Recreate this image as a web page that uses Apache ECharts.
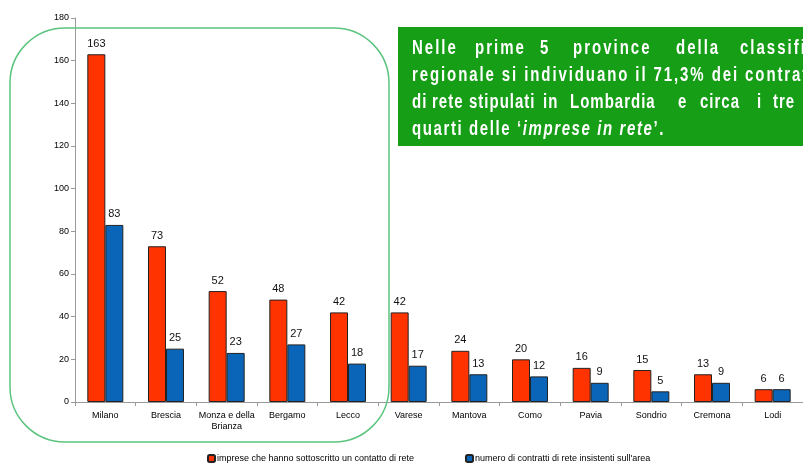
<!DOCTYPE html>
<html><head><meta charset="utf-8">
<script src="https://cdn.jsdelivr.net/npm/echarts@6/dist/echarts.min.js"></script>
<style>html,body{margin:0;padding:0;background:#fff}#c{width:803px;height:463px}</style>
</head><body><div id="c"></div>
<script>
const categories = ['Milano','Brescia','Monza e della\nBrianza','Bergamo','Lecco','Varese','Mantova','Como','Pavia','Sondrio','Cremona','Lodi'];
const imprese = [163,73,52,48,42,42,24,20,16,15,13,6];
const contratti = [83,25,23,27,18,17,13,12,9,5,9,6];
const seriesNames = ['imprese che hanno sottoscritto un contatto di rete','numero di contratti di rete insistenti sull\'area'];
const yTicks = {min:0, max:180, interval:20};

const F = 'Arial,"Liberation Sans",sans-serif';
const TF = 'bold 15px ' + F;
const chart = echarts.init(document.getElementById('c'));

// text-box helpers (letter-spaced, vertically stretched white text)
const mctx = document.createElement('canvas').getContext('2d');
function cw(ch, it){ mctx.font = (it ? 'italic ' : '') + TF; return mctx.measureText(ch).width; }
function placeRun(str, x, y, ls, it, out){
  for (const ch of str){
    if (ch !== ' ') out.push({type:'text', x:x, y:y, scaleY:1.35, z:20,
      style:{text:ch, fill:'#fff', font:(it ? 'italic ' : '') + TF, verticalAlign:'middle'}});
    x += cw(ch, it) + ls;
  }
  return x;
}
const line1 = [['Nelle',412],['prime',475],['5',540],['province',573],['della',676],['classifica',740]];
const line2 = 'regionale si individuano il 71,3% dei contratti';
const line3 = [['di',412],['rete',432],['stipulati',469],['in',543],['Lombardia',570],['e',678],['circa',700],['i',757],['tre',773]];
const line4 = [['quarti delle \u2018',false],['imprese in rete',true],['\u2019.',false]];

const graphics = [
  {type:'rect', z:15, shape:{x:398,y:27,width:440,height:119}, style:{fill:'#169e16'}},
  {type:'rect', z:5, shape:{x:10,y:28,width:379,height:414,r:55}, style:{fill:'none',stroke:'#5cc47e',lineWidth:1.5}}
];
line1.forEach(w=>placeRun(w[0], w[1], 48, 2.0, false, graphics));
placeRun(line2, 412, 75, 1.9, false, graphics);
line3.forEach(w=>placeRun(w[0], w[1], 102, 1.0, false, graphics));
let x4 = 412;
line4.forEach(r=>{ x4 = placeRun(r[0], x4, 129, 1.6, r[1], graphics); });

chart.setOption({
  animation:false,
  grid:{left:75, right:-10, top:18, bottom:61},
  legend:[
    {data:[seriesNames[0]], left:202, top:449, itemWidth:7, itemHeight:7, itemGap:3,
     textStyle:{fontSize:9, fontFamily:F, color:'#000', padding:[0,0,0,-3]}},
    {data:[seriesNames[1]], left:460, top:449, itemWidth:7, itemHeight:7, itemGap:3,
     textStyle:{fontSize:9, fontFamily:F, color:'#000', padding:[0,0,0,-3]}}
  ],
  xAxis:{type:'category', data:categories,
    axisLine:{lineStyle:{color:'#999'}},
    axisTick:{show:true, length:4, lineStyle:{color:'#999'}},
    axisLabel:{fontSize:9, fontFamily:F, color:'#000', margin:8, lineHeight:11, interval:0}},
  yAxis:{type:'value', min:yTicks.min, max:yTicks.max, interval:yTicks.interval,
    splitLine:{show:false},
    axisLine:{show:true, lineStyle:{color:'#999'}},
    axisTick:{show:true, length:4, lineStyle:{color:'#999'}},
    axisLabel:{fontSize:9, fontFamily:F, color:'#000', margin:6}},
  series:[
    {name:seriesNames[0], type:'bar', data:imprese, barWidth:18, barGap:'0%',
     itemStyle:{color:'#ff3300', borderColor:'#222', borderWidth:1},
     label:{show:true, position:'top', distance:5, fontSize:11, fontFamily:F, color:'#111'}},
    {name:seriesNames[1], type:'bar', data:contratti, barWidth:18,
     itemStyle:{color:'#0a64b8', borderColor:'#222', borderWidth:1},
     label:{show:true, position:'top', distance:5, fontSize:11, fontFamily:F, color:'#111'}}
  ],
  graphic:graphics
});
</script></body></html>
